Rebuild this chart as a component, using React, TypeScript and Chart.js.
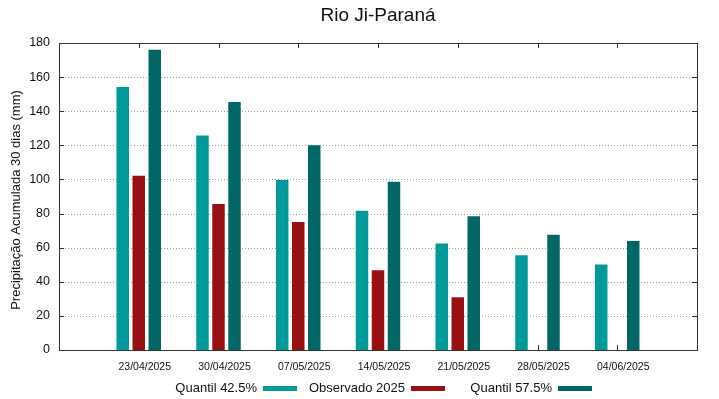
import React, { useEffect, useRef } from "react";
import { Chart, registerables } from "chart.js";

Chart.register(...registerables);

const TITLE = "Rio Ji-Paraná";
const Y_TITLE = "Precipitação Acumulada 30 dias (mm)";
const DATES = ["23/04/2025", "30/04/2025", "07/05/2025", "14/05/2025", "21/05/2025", "28/05/2025", "04/06/2025"];
const Q425 = [154.2, 125.7, 99.7, 81.7, 62.5, 55.5, 50.2];
const OBS = [102.2, 85.6, 75.0, 46.7, 30.9, null, null];
const Q575 = [176.1, 145.4, 120.0, 98.7, 78.4, 67.6, 63.9];
const Y_TICKS = [0, 20, 40, 60, 80, 100, 120, 140, 160, 180];
const SERIES_NAMES = ["Quantil 42.5%", "Observado 2025", "Quantil 57.5%"];
const COLORS = ["#009a9a", "#9a1010", "#006666"];

const FONT = "'Liberation Sans', Arial, sans-serif";

export default function App() {
  const ref = useRef<HTMLCanvasElement>(null);
  useEffect(() => {
    document.body.style.margin = "0";
    const canvas = ref.current!;
    const labels = ["", ...DATES, ""];
    const pad = (a: (number | null)[]) => [null, ...a, null];

    const decor = {
      id: "decor",
      beforeDatasetsDraw(chart: any) {
        const { ctx, chartArea: a, scales } = chart;
        const ys = scales.y;
        const xs = scales.x;
        ctx.save();
        // dotted grid
        ctx.strokeStyle = "#9a9a9a";
        ctx.lineWidth = 1;
        ctx.setLineDash([1, 2]);
        for (const v of Y_TICKS) {
          if (v === 0 || v === 180) continue;
          const y = Math.round(ys.getPixelForValue(v)) + 0.5;
          ctx.beginPath();
          ctx.moveTo(a.left, y);
          ctx.lineTo(a.right, y);
          ctx.stroke();
        }
        ctx.setLineDash([]);
        ctx.strokeStyle = "#333";
        const tl = 5;
        for (const v of Y_TICKS) {
          const y = Math.round(ys.getPixelForValue(v)) + 0.5;
          ctx.beginPath();
          ctx.moveTo(a.left, y);
          ctx.lineTo(a.left + tl, y);
          ctx.moveTo(a.right, y);
          ctx.lineTo(a.right - tl, y);
          ctx.stroke();
        }
        for (let i = 1; i <= DATES.length; i++) {
          const x = Math.round(xs.getPixelForValue(i)) + 0.5;
          ctx.beginPath();
          ctx.moveTo(x, a.top);
          ctx.lineTo(x, a.top + tl);
          ctx.moveTo(x, a.bottom);
          ctx.lineTo(x, a.bottom - tl);
          ctx.stroke();
        }
        ctx.restore();
      },
      afterDatasetsDraw(chart: any) {
        const { ctx, chartArea: a } = chart;
        ctx.save();
        ctx.strokeStyle = "#333";
        ctx.lineWidth = 1;
        ctx.strokeRect(Math.round(a.left) + 0.5, Math.round(a.top) + 0.5, Math.round(a.right - a.left), Math.round(a.bottom - a.top));
        ctx.restore();
      },
      afterDraw(chart: any) {
        const { ctx, chartArea: a } = chart;
        ctx.save();
        ctx.fillStyle = "#111";
        // title
        ctx.font = `19px ${FONT}`;
        ctx.textAlign = "center";
        ctx.textBaseline = "alphabetic";
        ctx.fillText(TITLE, (a.left + a.right) / 2, 21);
        // y title
        ctx.save();
        ctx.translate(20, 200);
        ctx.rotate(-Math.PI / 2);
        ctx.font = `13px ${FONT}`;
        ctx.fillText(Y_TITLE, 0, 0);
        ctx.restore();
        // legend
        ctx.font = `13px ${FONT}`;
        ctx.textAlign = "right";
        ctx.textBaseline = "middle";
        const sampleStarts = [263, 411, 558];
        const sw = 34;
        SERIES_NAMES.forEach((name, i) => {
          const sx = sampleStarts[i];
          ctx.fillStyle = "#111";
          ctx.fillText(name, sx - 6, 388);
          ctx.fillStyle = COLORS[i];
          ctx.fillRect(sx, 386, sw, 5);
        });
        ctx.restore();
      },
    };

    const chart = new Chart(canvas, {
      type: "bar",
      data: {
        labels,
        datasets: [
          { label: SERIES_NAMES[0], data: pad(Q425), backgroundColor: COLORS[0] },
          { label: SERIES_NAMES[1], data: pad(OBS), backgroundColor: COLORS[1] },
          { label: SERIES_NAMES[2], data: pad(Q575), backgroundColor: COLORS[2] },
        ],
      },
      options: {
        responsive: false,
        animation: false,
        events: [],
        layout: { padding: { top: 43, right: 22, left: 0, bottom: 0 } },
        datasets: { bar: { categoryPercentage: 0.602, barPercentage: 0.78 } },
        plugins: { legend: { display: false }, title: { display: false }, tooltip: { enabled: false } },
        scales: {
          x: {
            type: "category",
            offset: false,
            grid: { display: false, drawTicks: false },
            border: { display: false },
            ticks: {
              autoSkip: false,
              maxRotation: 0,
              minRotation: 0,
              padding: 11,
              labelOffset: 6,
              color: "#111",
              font: { family: FONT, size: 10.5 },
            },
            afterFit: (s: any) => { s.height = 49; },
          },
          y: {
            min: 0,
            max: 180,
            grid: { display: false, drawTicks: false },
            border: { display: false },
            ticks: {
              stepSize: 20,
              padding: 9,
              color: "#111",
              font: { family: FONT, size: 12.5 },
            },
            afterFit: (s: any) => { s.width = 59; },
          },
        },
      },
      plugins: [decor],
    } as any);
    return () => chart.destroy();
  }, []);
  return (
    <div style={{ width: 719, height: 399 }}>
      <canvas ref={ref} width={719} height={399} style={{ display: "block" }} />
    </div>
  );
}
